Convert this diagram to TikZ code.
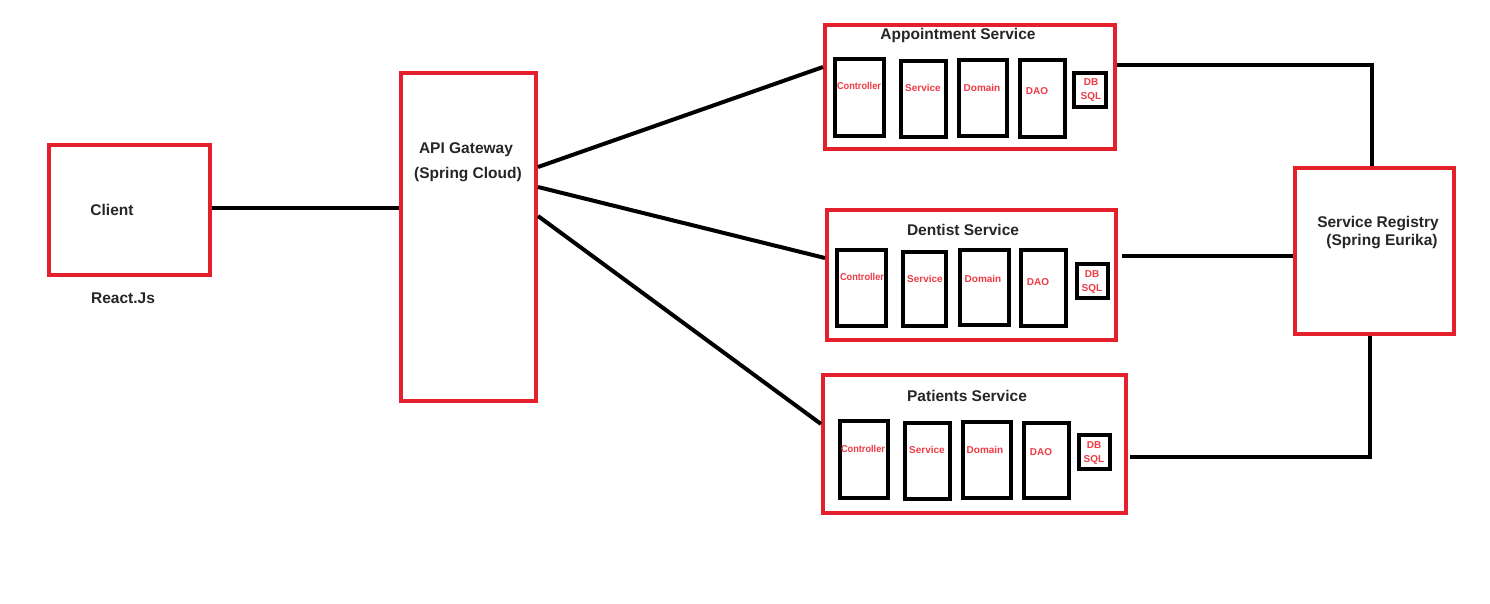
\documentclass[tikz,border=0pt]{standalone}
\usepackage{fontspec}
\setmainfont{Liberation Sans}
\definecolor{pRed}{HTML}{E3202B}
\definecolor{lRed}{HTML}{EE3B44}
\definecolor{tGray}{HTML}{262626}
\tikzset{
  redbox/.style={draw=pRed, line width=4pt, inner sep=0pt, fill=white},
  blkbox/.style={draw=black, line width=4pt, inner sep=0pt},
  conn/.style={draw=black, line width=4pt},
  ttl/.style={font=\bfseries\fontsize{15.5}{18}\selectfont, text=tGray, inner sep=0pt},
  lbl/.style={font=\bfseries\fontsize{10}{14}\selectfont, text=lRed, inner sep=0pt, align=center},
}
% box by centerline corners
\newcommand{\bx}[6]{\node[#6, minimum width={(#4)-(#2)}, minimum height={(#5)-(#3)}] (#1) at ({((#2)+(#4))/2},{((#3)+(#5))/2}) {};}
\begin{document}
\begin{tikzpicture}[x=1pt,y=-1pt]
\useasboundingbox[fill=white] (0,0) rectangle (1490,603);

% main boxes
\bx{client}{49}{144.5}{210}{275}{redbox}
\bx{api}{400.5}{72.5}{536}{401}{redbox}
\bx{appt}{825}{25}{1115}{149}{redbox}
\bx{dent}{827}{210}{1116}{340}{redbox}
\bx{pat}{823}{375}{1126}{513}{redbox}
\bx{reg}{1295}{168}{1454}{334}{redbox}

% texts
\node[ttl] (clientT) at (112,210) {Client};
\node[ttl] (reactT) at (123,298) {React.Js};
\node[ttl] (apiT1) at (466,150) {API Gateway};
\node[ttl] (apiT2) at (468,175) {(Spring Cloud)};
\node[ttl] (regT1) at (1378,224) {Service Registry};
\node[ttl] (regT2) at (1382,242) {(Spring Eurika)};
\node[ttl] (apptT) at (958,35) {Appointment Service};
\node[ttl] (dentT) at (963,230) {Dentist Service};
\node[ttl] (patT) at (967,396) {Patients Service};

% Appointment inner boxes
\bx{a1}{835}{59}{884}{136}{blkbox}
\bx{a2}{901}{61}{946}{137}{blkbox}
\bx{a3}{959}{60}{1007}{136}{blkbox}
\bx{a4}{1020}{60}{1065}{137}{blkbox}
\bx{a5}{1074}{73}{1106}{107}{blkbox}
\node[lbl] (a1t) at (859,86) {\scalebox{0.92}[1]{Controller}};
\node[lbl] (a2t) at (923,88) {Service};
\node[lbl] (a3t) at (982,88) {Domain};
\node[lbl] (a4t) at (1037,91) {DAO};
\node[lbl] (a5t) at (1091,90) {DB\\SQL};

% Dentist inner boxes
\bx{d1}{837}{250}{886}{326}{blkbox}
\bx{d2}{903}{252}{946}{326}{blkbox}
\bx{d3}{960}{250}{1009}{325}{blkbox}
\bx{d4}{1021}{250}{1066}{326}{blkbox}
\bx{d5}{1077}{264}{1108}{298}{blkbox}
\node[lbl] (d1t) at (862,277) {\scalebox{0.92}[1]{Controller}};
\node[lbl] (d2t) at (925,279) {Service};
\node[lbl] (d3t) at (983,279) {Domain};
\node[lbl] (d4t) at (1038,282) {DAO};
\node[lbl] (d5t) at (1092,282) {DB\\SQL};

% Patients inner boxes
\bx{p1}{840}{421}{888}{498}{blkbox}
\bx{p2}{905}{423}{950}{499}{blkbox}
\bx{p3}{963}{422}{1011}{498}{blkbox}
\bx{p4}{1024}{423}{1069}{498}{blkbox}
\bx{p5}{1079}{435}{1110}{469}{blkbox}
\node[lbl] (p1t) at (863,449) {\scalebox{0.92}[1]{Controller}};
\node[lbl] (p2t) at (927,450) {Service};
\node[lbl] (p3t) at (985,450) {Domain};
\node[lbl] (p4t) at (1041,452) {DAO};
\node[lbl] (p5t) at (1094,453) {DB\\SQL};

% connectors
\draw[conn] (client.east |- 0,208) -- (api.west |- 0,208);
\draw[conn] (api.east |- 0,167) -- (appt.west |- 0,67);
\draw[conn] (api.east |- 0,187) -- (dent.west |- 0,258);
\draw[conn] (api.east |- 0,216) -- (pat.west |- 0,424);
\draw[conn] (appt.east |- 0,65) -- (1372,65) -- (1372,0 |- reg.north);
\draw[conn] ([xshift=4pt]dent.east |- 0,256) -- (reg.west |- 0,256);
\draw[conn] ([xshift=2pt]pat.east |- 0,457) -- (1370,457) -- (1370,0 |- reg.south);
\end{tikzpicture}
\end{document}
